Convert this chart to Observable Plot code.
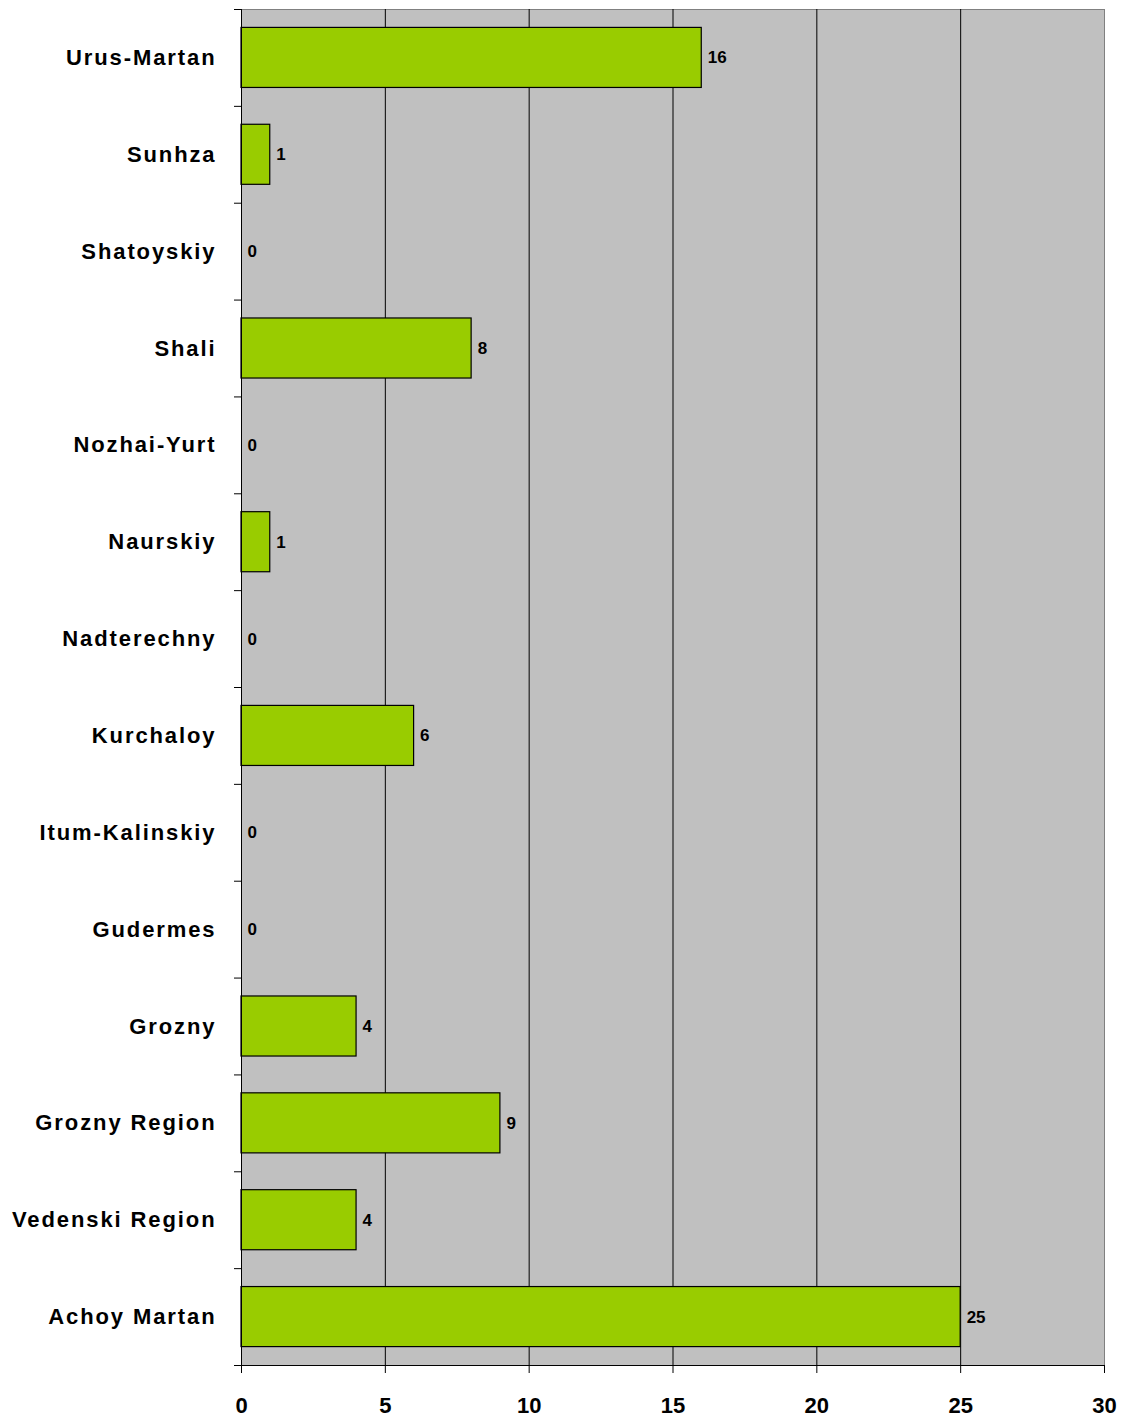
<!DOCTYPE html>
<html>
<head>
<meta charset="utf-8">
<script src="https://cdn.jsdelivr.net/npm/d3@7"></script>
<script src="https://cdn.jsdelivr.net/npm/@observablehq/plot@0.6"></script>
<style>
  html, body { margin: 0; padding: 0; background: #fff; }
  #chart { width: 1122px; height: 1420px; }
  #chart g[aria-label="y-axis tick label"] text { letter-spacing: 1.9px; }
</style>
</head>
<body>
<div id="chart"></div>
<script>
const regions = ["Urus-Martan", "Sunhza", "Shatoyskiy", "Shali", "Nozhai-Yurt", "Naurskiy", "Nadterechny", "Kurchaloy", "Itum-Kalinskiy", "Gudermes", "Grozny", "Grozny Region", "Vedenski Region", "Achoy Martan"];
const counts = [16, 1, 0, 8, 0, 1, 0, 6, 0, 0, 4, 9, 4, 25];
const xTicks = [0, 5, 10, 15, 20, 25, 30];
const gridTicks = [5, 10, 15, 20, 25];

const data = regions.map((r, i) => ({region: r, value: counts[i]}));

const W = 1122, H = 1420, mt = 9, mb = 55, ml = 241, mr = 18;
const step = (H - mt - mb) / regions.length;
const last = regions[regions.length - 1];

const chart = Plot.plot({
  width: W,
  height: H,
  marginTop: mt,
  marginBottom: mb,
  marginLeft: ml,
  marginRight: mr,
  style: {fontFamily: "'Liberation Sans', Arial, sans-serif", color: "#000", background: "#fff"},
  x: {domain: [0, 30], label: null},
  y: {domain: regions, paddingInner: 0.38, paddingOuter: 0.19, align: 0.5, round: false, label: null},
  marks: [
    Plot.frame({fill: "#C0C0C0", stroke: "#808080", strokeWidth: 1}),
    Plot.ruleX(gridTicks, {stroke: "#000", strokeWidth: 1}),
    Plot.barX(data, {x: "value", y: "region", fill: "#99CC00", stroke: "#000", strokeWidth: 1.2}),
    Plot.text(data, {x: "value", y: "region", text: d => String(d.value), dx: 6, textAnchor: "start", fontSize: 17, fontWeight: "bold", fill: "#000"}),
    Plot.ruleX([0], {stroke: "#000", strokeWidth: 1}),
    Plot.ruleY([last], {x1: 0, x2: 30, dy: step / 2, stroke: "#000", strokeWidth: 1}),
    Plot.axisX({ticks: xTicks, tickSize: 8, tickPadding: 24, tickFormat: d => String(d), fontSize: 22, fontWeight: "bold", stroke: "#000", label: null}),
    Plot.axisY({tickSize: 0, tickPadding: 25, fontSize: 22, fontWeight: "bold", label: null}),
    Plot.axisY({tickSize: 7, text: null, dy: -step / 2, stroke: "#000", label: null}),
    Plot.axisY([last], {tickSize: 7, text: null, dy: step / 2, stroke: "#000", label: null})
  ]
});
document.getElementById("chart").appendChild(chart);
</script>
</body>
</html>
